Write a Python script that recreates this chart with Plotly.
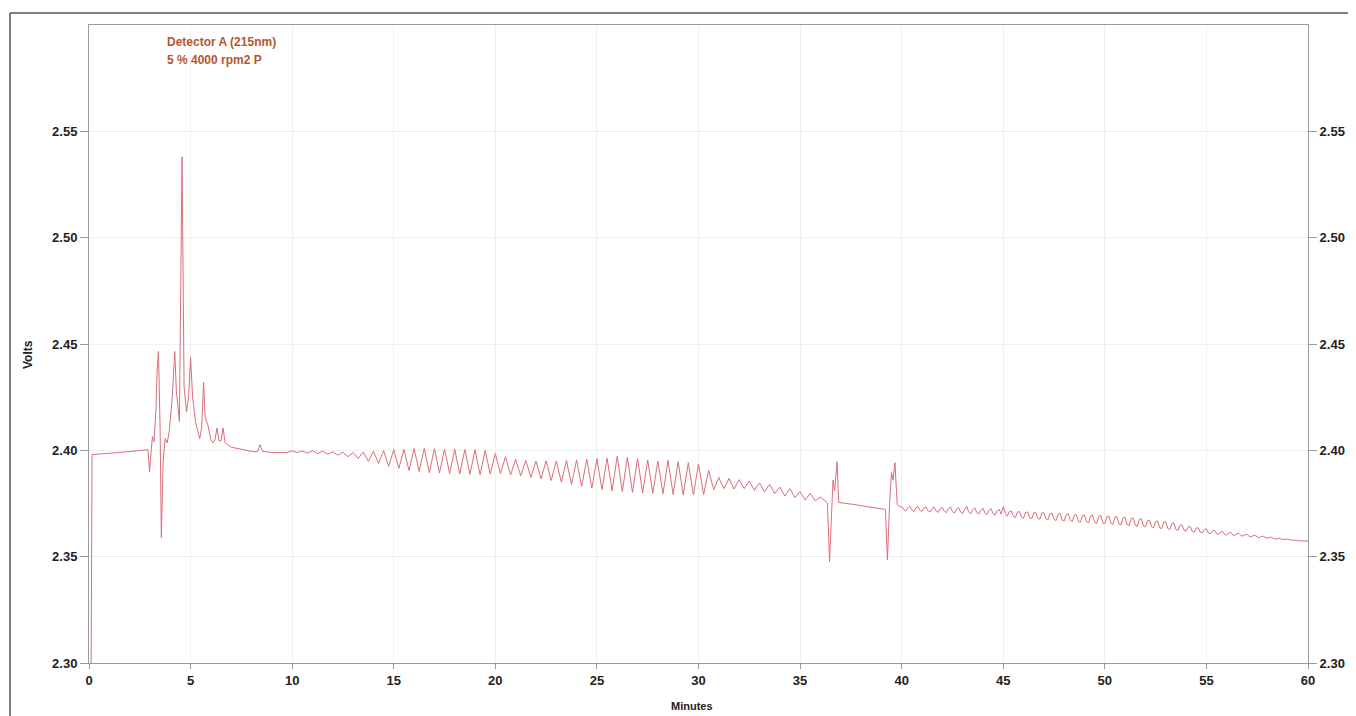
import plotly.graph_objects as go

# ---- data ----
early_t = [0.10, 0.15, 1.5, 2.9, 2.98, 3.05, 3.12, 3.2, 3.3, 3.35, 3.42, 3.5, 3.56, 3.65, 3.75,
           3.85, 3.95, 4.1, 4.22, 4.3, 4.45, 4.58, 4.68, 4.8, 4.9, 5.0, 5.1, 5.25, 5.45, 5.55,
           5.64, 5.72, 5.85, 6.0, 6.1, 6.2, 6.3, 6.4, 6.5, 6.6, 6.7, 7.0, 7.5, 8.0, 8.3, 8.42,
           8.55, 9.0, 9.5]
early_v = [2.290, 2.398, 2.3990, 2.4003, 2.3900, 2.4000, 2.4065, 2.4040, 2.4200, 2.4370, 2.4465,
           2.4100, 2.3590, 2.3950, 2.4055, 2.4035, 2.4090, 2.4250, 2.4465, 2.4280, 2.4135, 2.5380,
           2.4300, 2.4180, 2.4250, 2.4435, 2.4250, 2.4130, 2.4055, 2.4110, 2.4320, 2.4150, 2.4120,
           2.4050, 2.4035, 2.4050, 2.4105, 2.4045, 2.4045, 2.4105, 2.4035, 2.4015, 2.4005, 2.3995,
           2.3993, 2.4027, 2.3995, 2.3990, 2.3990]

osc_start, osc_step = 9.75, 0.25
osc_v = [2.3990,
         2.3998, 2.3989, 2.3997, 2.3987,
         2.3998, 2.3985, 2.3996, 2.3982,
         2.3993, 2.3977, 2.3991, 2.3970,
         2.3990, 2.3962, 2.3992, 2.3948,
         2.3996, 2.3938, 2.3999, 2.3925,
         2.4003, 2.3915, 2.4005, 2.3905,
         2.4008, 2.3900, 2.4009, 2.3895,
         2.4008, 2.3893, 2.4006, 2.3891,
         2.4005, 2.3889, 2.4004, 2.3887,
         2.4003, 2.3885, 2.4000, 2.3888,
         2.3985, 2.3890, 2.3970, 2.3884,
         2.3958, 2.3880, 2.3953, 2.3873,
         2.3950, 2.3866, 2.3951, 2.3858,
         2.3950, 2.3850, 2.3952, 2.3840,
         2.3955, 2.3830, 2.3958, 2.3822,
         2.3960, 2.3815, 2.3963, 2.3810,
         2.3972, 2.3805, 2.3968, 2.3802,
         2.3962, 2.3800, 2.3955, 2.3798,
         2.3950, 2.3795, 2.3952, 2.3792,
         2.3946, 2.3790, 2.3942, 2.3790,
         2.3936, 2.3792, 2.3905, 2.3815,
         2.3872, 2.3820, 2.3868, 2.3818,
         2.3862, 2.3820, 2.3856, 2.3812,
         2.3847, 2.3805, 2.3840, 2.3797,
         2.3827, 2.3785, 2.3820, 2.3778,
         2.3806, 2.3766, 2.3798, 2.3762,
         2.3780]

spike_t = [36.2, 36.35, 36.45, 36.55, 36.62, 36.7, 36.82, 36.9, 37.2, 37.6, 38.0, 38.4, 38.8,
           39.2, 39.3, 39.4, 39.5, 39.58, 39.67, 39.78, 39.9]
spike_v = [2.3762, 2.3752, 2.3476, 2.3760, 2.3860, 2.3810, 2.3946, 2.3755, 2.3752, 2.3746,
           2.3740, 2.3735, 2.3728, 2.3722, 2.3485, 2.3740, 2.3895, 2.3860, 2.3942, 2.3745, 2.3735]

tail_start, tail_step = 40.0, 0.1
tail_v = [2.3735, 2.3722, 2.3715, 2.3730, 2.3738, 2.3720, 2.3712, 2.3728, 2.3736, 2.3718,
          2.3713, 2.3729, 2.3734, 2.3716, 2.3710, 2.3727, 2.3733, 2.3714, 2.3708, 2.3726,
          2.3732, 2.3713, 2.3707, 2.3725, 2.3734, 2.3712, 2.3705, 2.3724, 2.3731, 2.3710,
          2.3704, 2.3722, 2.3738, 2.3709, 2.3702, 2.3721, 2.3730, 2.3707, 2.3700, 2.3719,
          2.3728, 2.3705, 2.3698, 2.3718, 2.3726, 2.3702, 2.3695, 2.3716, 2.3722, 2.3700,
          2.3735, 2.3705, 2.3690, 2.3712, 2.3715, 2.3688, 2.3684, 2.3710, 2.3712, 2.3686,
          2.3681, 2.3708, 2.3710, 2.3683, 2.3678, 2.3706, 2.3708, 2.3680, 2.3676, 2.3705,
          2.3707, 2.3678, 2.3673, 2.3702, 2.3705, 2.3675, 2.3670, 2.3700, 2.3703, 2.3672,
          2.3668, 2.3698, 2.3701, 2.3670, 2.3665, 2.3696, 2.3698, 2.3667, 2.3662, 2.3694,
          2.3696, 2.3664, 2.3660, 2.3692, 2.3695, 2.3661, 2.3657, 2.3690, 2.3693, 2.3658,
          2.3655, 2.3688, 2.3690, 2.3656, 2.3652, 2.3686, 2.3688, 2.3653, 2.3650, 2.3683,
          2.3685, 2.3650, 2.3646, 2.3680, 2.3682, 2.3647, 2.3643, 2.3676, 2.3678, 2.3644,
          2.3640, 2.3670, 2.3672, 2.3640, 2.3636, 2.3666, 2.3668, 2.3636, 2.3632, 2.3662,
          2.3664, 2.3632, 2.3628, 2.3656, 2.3658, 2.3628, 2.3624, 2.3648, 2.3650, 2.3624,
          2.3620, 2.3640, 2.3642, 2.3619, 2.3615, 2.3634, 2.3636, 2.3615, 2.3612, 2.3628,
          2.3630, 2.3611, 2.3608, 2.3622, 2.3624, 2.3608, 2.3605, 2.3616, 2.3618, 2.3604,
          2.3602, 2.3612, 2.3614, 2.3602, 2.3600, 2.3608, 2.3610, 2.3599, 2.3597, 2.3603,
          2.3605, 2.3596, 2.3594, 2.3599, 2.3600, 2.3593, 2.3590, 2.3595, 2.3596, 2.3590,
          2.3587, 2.3590, 2.3591, 2.3586, 2.3583, 2.3585, 2.3586, 2.3582, 2.3580, 2.3581,
          2.3582, 2.3579, 2.3577, 2.3578, 2.3578, 2.3576, 2.3574, 2.3575, 2.3575, 2.3574,
          2.3573]

x_ticks = [0, 5, 10, 15, 20, 25, 30, 35, 40, 45, 50, 55, 60]
y_ticks = [2.30, 2.35, 2.40, 2.45, 2.50, 2.55]
y_labels = ["2.30", "2.35", "2.40", "2.45", "2.50", "2.55"]
label_line1 = "Detector A (215nm)"
label_line2 = "5 % 4000 rpm2 P"

# ---- assemble series ----
t = (early_t
     + [osc_start + i * osc_step for i in range(len(osc_v))]
     + spike_t
     + [tail_start + i * tail_step for i in range(len(tail_v))])
v = early_v + osc_v + spike_v + tail_v

LINE = "#da6e7b"
GRID = "#efefef"
AXIS = "#9a9a9a"
TICKFONT = dict(family="Liberation Sans Narrow, Arial Narrow, Liberation Sans, Arial", size=13,
                color="#222222", weight="bold")

# figure sits 8px inside the page (body margin); plot area = page px 89..1308 x 25..663
W, H = 1348, 708
L, R, T, B = 81, 48, 17, 53
PW, PH = W - L - R, H - T - B


def px(xp):   # page x -> paper
    return (xp - 8 - L) / PW


def py(yp):   # page y -> paper
    return 1 - (yp - 8 - T) / PH


fig = go.Figure()
fig.add_trace(go.Scatter(x=t, y=v, mode="lines", line=dict(color=LINE, width=1),
                         hoverinfo="x+y", showlegend=False))
fig.add_trace(go.Scatter(x=[None], y=[None], yaxis="y2", showlegend=False, hoverinfo="skip"))

fig.update_layout(
    width=W, height=H,
    margin=dict(l=L, r=R, t=T, b=B),
    paper_bgcolor="white", plot_bgcolor="white",
    xaxis=dict(range=[0, 60], tickvals=x_ticks, ticks="outside", ticklen=5, tickcolor=AXIS,
               showline=True, linecolor=AXIS, linewidth=1, mirror=True,
               showgrid=True, gridcolor=GRID, gridwidth=1, zeroline=False,
               tickfont=TICKFONT),
    yaxis=dict(range=[2.30, 2.60], tickvals=y_ticks, ticktext=y_labels, ticks="outside",
               ticklen=8, tickcolor=AXIS, showline=True, linecolor=AXIS, linewidth=1,
               showgrid=True, gridcolor=GRID, zeroline=False, tickfont=TICKFONT),
    yaxis2=dict(range=[2.30, 2.60], tickvals=y_ticks, ticktext=y_labels, ticks="outside",
                ticklen=8, tickcolor=AXIS, overlaying="y", side="right", showline=True,
                linecolor=AXIS, showgrid=False, zeroline=False, tickfont=TICKFONT),
    annotations=[
        dict(text="<b>" + label_line1 + "</b>", xref="paper", yref="paper",
             x=px(165), y=py(42), xanchor="left", yanchor="middle",
             showarrow=False, font=dict(family="Liberation Sans, Arial", size=12, color="#b8552f")),
        dict(text="<b>" + label_line2 + "</b>", xref="paper", yref="paper",
             x=px(165), y=py(60), xanchor="left", yanchor="middle",
             showarrow=False, font=dict(family="Liberation Sans, Arial", size=12, color="#b8552f")),
        dict(text="<b>Minutes</b>", xref="paper", yref="paper",
             x=px(692), y=py(706), xanchor="center", yanchor="middle",
             showarrow=False, font=dict(family="Liberation Sans Narrow, Liberation Sans, Arial", size=11, color="#222222")),
        dict(text="<b>Volts</b>", xref="paper", yref="paper", textangle=-90,
             x=px(28), y=py(355), xanchor="center", yanchor="middle",
             showarrow=False, font=dict(family="Liberation Sans Narrow, Liberation Sans, Arial", size=12, color="#222222")),
    ],
    shapes=[
        dict(type="line", xref="paper", yref="paper",
             x0=px(10), x1=px(1356), y0=py(13), y1=py(13),
             line=dict(color="#555555", width=1.5)),
        dict(type="line", xref="paper", yref="paper",
             x0=px(10), x1=px(10), y0=py(13), y1=py(716),
             line=dict(color="#555555", width=1.5)),
    ],
)

fig.write_html("out.html")
